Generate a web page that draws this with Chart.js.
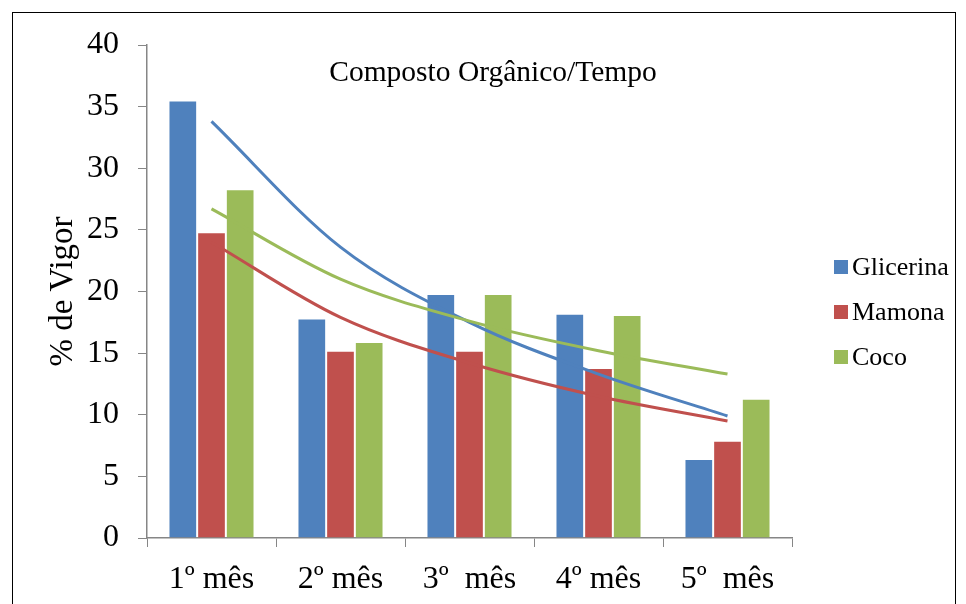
<!DOCTYPE html>
<html>
<head>
<meta charset="utf-8">
<script src="https://cdn.jsdelivr.net/npm/chart.js@4/dist/chart.umd.min.js"></script>
<style>
    html, body { margin: 0; padding: 0; background: #fff; }
    #wrap { position: relative; width: 966px; height: 604px; }
    #frame { position: absolute; left: 12px; top: 12px; width: 942px; height: 620px; border: 1px solid #000; }
    #vigor-chart { position: absolute; left: 0; top: 0; }
</style>
</head>
<body>
<div id="wrap">
    <div id="frame"></div>
    <canvas id="vigor-chart" width="966" height="604"></canvas>
</div>
<script>
const categories = ['1º mês', '2º mês', '3º  mês', '4º mês', '5º  mês']
const glicerina = [35.5, 17.8, 19.8, 18.2, 6.4]
const mamona = [24.8, 15.2, 15.2, 13.8, 7.9]
const coco = [28.3, 15.9, 19.8, 18.1, 11.3]

// trend lines as they appear in the picture
const glicerina_trend = [33.8, 23.6, 17.5, 13.3, 9.9]
const mamona_trend = [24.0, 17.9, 14.2, 11.5, 9.5]
const coco_trend = [26.7, 21.0, 17.6, 15.2, 13.3]

const y_ticks = [0, 5, 10, 15, 20, 25, 30, 35, 40]
const chart_title = 'Composto Orgânico/Tempo'
const y_title = '% de Vigor'

const blue = '#4F81BD'
const red = '#C0504D'
const green = '#9BBB59'
const axis_grey = '#868686'
const serif = '"Liberation Serif", "Times New Roman", serif'

// title inside the plot and the legend on the right
const overlay_plugin = {
    id: 'overlay',
    afterDraw(chart) {
        let ctx = chart.ctx
        let area = chart.chartArea
        ctx.save()
        ctx.fillStyle = '#000'
        ctx.textBaseline = 'middle'
        ctx.textAlign = 'center'
        ctx.font = '29.5px ' + serif
        ctx.fillText(chart_title, area.left + 346, area.top + 28)

        ctx.textAlign = 'left'
        ctx.font = '26px ' + serif
        let bars = chart.data.datasets.filter(d => d.type === 'bar')
        bars.forEach((ds, i) => {
            let y = 267 + i * 45
            ctx.fillStyle = ds.backgroundColor
            ctx.fillRect(area.right + 42, y - 7, 14, 14)
            ctx.fillStyle = '#000'
            ctx.fillText(ds.label, area.right + 60, y + 1)
        })
        ctx.restore()
    }
}

function set_up_chart() {
    const data = {
        labels: categories,
        datasets: [
            {type: 'bar', label: 'Glicerina', data: glicerina, backgroundColor: blue, order: 3},
            {type: 'bar', label: 'Mamona', data: mamona, backgroundColor: red, order: 3},
            {type: 'bar', label: 'Coco', data: coco, backgroundColor: green, order: 3},
            {type: 'line', label: 'Glicerina trend', data: glicerina_trend, borderColor: blue, order: 2},
            {type: 'line', label: 'Mamona trend', data: mamona_trend, borderColor: red, order: 1},
            {type: 'line', label: 'Coco trend', data: coco_trend, borderColor: green, order: 0},
        ]
    }
    data.datasets.forEach(ds => {
        if (ds.type === 'bar') {
            ds.categoryPercentage = 0.667
            ds.barPercentage = 1.0
            ds.borderWidth = 1
            ds.borderColor = 'rgba(255,255,255,0.2)'
        } else {
            ds.borderWidth = 3
            ds.pointRadius = 0
            ds.fill = false
            ds.cubicInterpolationMode = 'monotone'
        }
    })

    const config = {
        data: data,
        plugins: [overlay_plugin],
        options: {
            responsive: false,
            animation: false,
            devicePixelRatio: 1,
            layout: {padding: {left: 40, top: 45, right: 174, bottom: 0}},
            plugins: {
                legend: {display: false},
                tooltip: {enabled: false},
            },
            scales: {
                x: {
                    afterFit: scale => { scale.height = 66 },
                    grid: {offset: true, drawOnChartArea: false, tickLength: 9, color: axis_grey, tickColor: axis_grey},
                    border: {color: axis_grey, width: 1.5},
                    ticks: {color: '#000', font: {family: serif, size: 32}, padding: 13, maxRotation: 0},
                },
                y: {
                    min: 0,
                    max: 40,
                    afterFit: scale => { scale.width = 107 },
                    afterBuildTicks: scale => { scale.ticks = y_ticks.map(v => ({value: v})) },
                    grid: {drawOnChartArea: false, tickLength: 9, color: axis_grey, tickColor: axis_grey},
                    border: {color: axis_grey, width: 1.5},
                    ticks: {color: '#000', font: {family: serif, size: 32}, padding: 19},
                    title: {display: true, text: y_title, color: '#000', font: {family: serif, size: 33}},
                },
            },
        },
    }

    let my_chart = document.querySelector('#vigor-chart')
    let crt = new Chart(my_chart, config)
}

set_up_chart()
</script>
</body>
</html>
